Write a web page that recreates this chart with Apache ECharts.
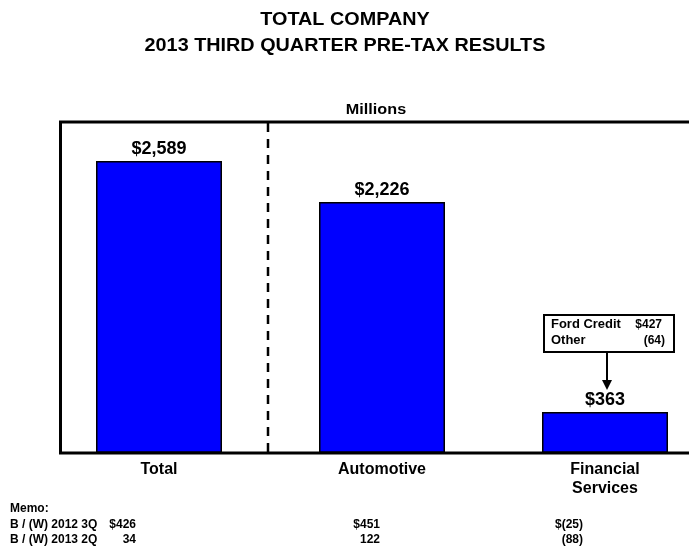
<!DOCTYPE html>
<html>
<head>
<meta charset="utf-8">
<script src="https://cdn.jsdelivr.net/npm/echarts@6/dist/echarts.min.js"></script>
<style>html,body{margin:0;padding:0;background:#fff}#c{width:689px;height:547px}</style>
</head>
<body>
<div id="c"></div>
<script>
var titleLines = ["TOTAL COMPANY", "2013 THIRD QUARTER PRE-TAX RESULTS"];
var unitLabel = "Millions";
var categories = ["Total", "Automotive", "Financial\nServices"];
var values = [2589, 2226, 363];
var memoTitle = "Memo:";
var memoRowLabels = ["B / (W) 2012 3Q", "B / (W) 2013 2Q"];
var memo2012 = ["$426", "$451", "$(25)"];
var memo2013 = ["34", "122", "(88)"];
var calloutLabels = ["Ford Credit", "Other"];
var calloutValues = ["$427", "(64)"];

function fmt(v) { return "$" + v.toLocaleString("en-US"); }

var FONT = "Liberation Sans, Arial, sans-serif";
var chart = echarts.init(document.getElementById("c"));

var graphics = [];
// frame
graphics.push({type: "rect", shape: {x: 60.5, y: 122, width: 660, height: 331}, style: {fill: "none", stroke: "#000", lineWidth: 3}, z: 10});
// dashed divider
graphics.push({type: "line", shape: {x1: 268, y1: 123, x2: 268, y2: 452}, style: {stroke: "#000", lineWidth: 2.5, lineDash: [9, 7]}, z: 10});
// title
titleLines.forEach(function (t, i) {
  graphics.push({type: "text", x: 345, y: 20 + i * 26, scaleX: 1.1, style: {text: t, font: "bold 18px " + FONT, fill: "#000", align: "center", verticalAlign: "middle"}});
});
graphics.push({type: "text", x: 376, y: 110, scaleX: 1.08, style: {text: unitLabel, font: "bold 15px " + FONT, fill: "#000", align: "center", verticalAlign: "middle"}});
// memo
var memoFont = "bold 12px " + FONT;
graphics.push({type: "text", x: 10, y: 509, style: {text: memoTitle, font: memoFont, fill: "#000", align: "left", verticalAlign: "middle"}});
var memoRight = [136, 380, 583];
[memo2012, memo2013].forEach(function (row, r) {
  var y = 525 + r * 15;
  graphics.push({type: "text", x: 10, y: y, style: {text: memoRowLabels[r], font: memoFont, fill: "#000", align: "left", verticalAlign: "middle"}});
  row.forEach(function (v, i) {
    graphics.push({type: "text", x: memoRight[i], y: y, style: {text: v, font: memoFont, fill: "#000", align: "right", verticalAlign: "middle"}});
  });
});
// callout box
graphics.push({type: "rect", shape: {x: 544, y: 315, width: 130, height: 37}, style: {fill: "#fff", stroke: "#000", lineWidth: 2}, z: 10});
var calloutRight = [662, 665];
calloutLabels.forEach(function (t, i) {
  var y = 325 + i * 16;
  graphics.push({type: "text", x: 551, y: y, scaleX: 1.08, style: {text: t, font: "bold 12px " + FONT, fill: "#000", align: "left", verticalAlign: "middle"}, z: 11});
  graphics.push({type: "text", x: calloutRight[i], y: y, style: {text: calloutValues[i], font: "bold 12px " + FONT, fill: "#000", align: "right", verticalAlign: "middle"}, z: 11});
});
graphics.push({type: "line", shape: {x1: 607, y1: 352, x2: 607, y2: 381}, style: {stroke: "#000", lineWidth: 2}, z: 10});
graphics.push({type: "polygon", shape: {points: [[602, 380], [612, 380], [607, 390]]}, style: {fill: "#000"}, z: 10});

chart.setOption({
  animation: false,
  backgroundColor: "#fff",
  grid: {left: 159, top: 121, right: 84, bottom: 94, containLabel: false},
  xAxis: {
    type: "category",
    boundaryGap: false,
    data: categories,
    axisLine: {show: false},
    axisTick: {show: false},
    axisLabel: {color: "#000", fontFamily: FONT, fontWeight: "bold", fontSize: 16, lineHeight: 19, margin: 7}
  },
  yAxis: {type: "value", min: 0, max: 2944, show: false, splitLine: {show: false}},
  series: [{
    type: "bar",
    data: values,
    barWidth: 126,
    clip: false,
    itemStyle: {color: "#0000FF", borderColor: "#000", borderWidth: 1.5},
    label: {show: true, position: "top", distance: 3, formatter: function (p) { return fmt(p.value); }, color: "#000", fontFamily: FONT, fontWeight: "bold", fontSize: 18}
  }],
  graphic: graphics
});
</script>
</body>
</html>
